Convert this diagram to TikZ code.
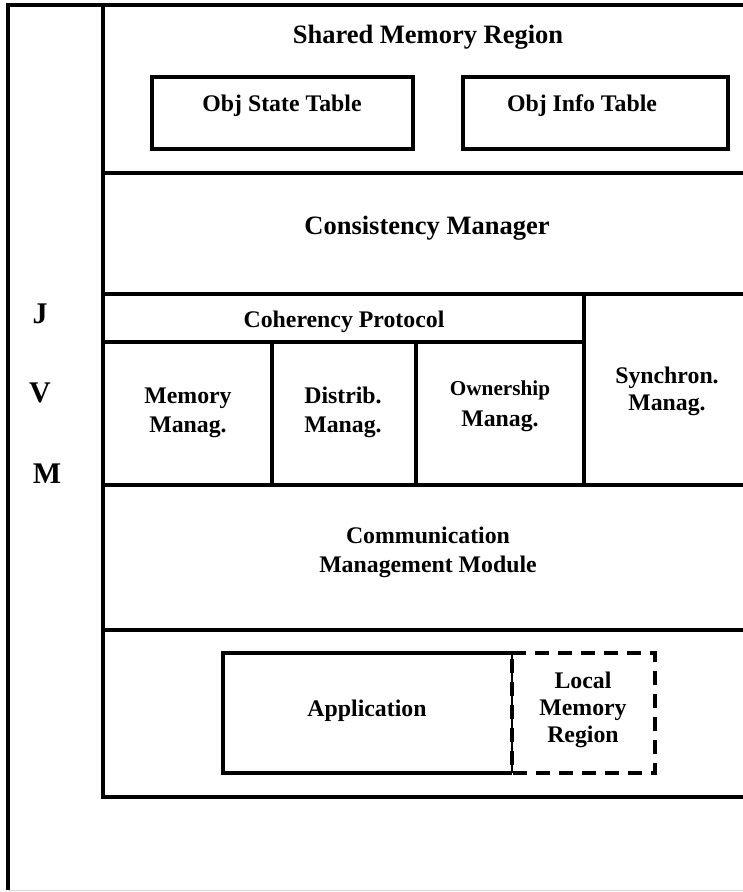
\documentclass[tikz,border=0pt]{standalone}
\usepackage{fontspec}
\setmainfont{Liberation Serif}
\begin{document}
\begin{tikzpicture}[x=1pt,y=-1pt,
  thick line/.style={line width=4pt},
  thin line/.style={line width=2pt},
  dash line/.style={line width=4pt, dash pattern=on 14pt off 9pt},
  big/.style={font=\fontsize{26.5}{30}\selectfont\bfseries, inner sep=0pt},
  mid/.style={font=\fontsize{23.8}{29}\selectfont\bfseries, inner sep=0pt, align=center},
  tight/.style={font=\fontsize{23.8}{27}\selectfont\bfseries, inner sep=0pt, align=center},
  small/.style={font=\fontsize{21.2}{31}\selectfont\bfseries, inner sep=0pt, align=center},
  jvm/.style={font=\fontsize{30}{30}\selectfont\bfseries, inner sep=0pt}]
\useasboundingbox (0,0) rectangle (743,892);
% outer JVM frame
\draw[thick line] (743,5) -- (8,5) -- (8,890);
\draw[line width=1pt, black!15] (8,890) -- (743,890);
% inner column
\draw[thick line] (103,5) -- (103,797) -- (743,797);
% horizontal layers
\draw[thick line] (103,173) -- (743,173);
\draw[thick line] (103,294) -- (743,294);
\draw[thick line] (103,342) -- (584,342);
\draw[thick line] (103,485) -- (743,485);
\draw[thick line] (103,630) -- (743,630);
% verticals in manager row
\draw[thick line] (272,342) -- (272,485);
\draw[thick line] (416,342) -- (416,485);
\draw[thick line] (584,294) -- (584,485);
% tables
\draw[thick line] (152,77) rectangle (413,149);
\draw[thick line] (463,77) rectangle (728,149);
% application and local memory
\draw[thick line] (512,653) -- (223,653) -- (223,773) -- (512,773);
\draw[thin line] (512,653) -- (512,773);
\draw[dash line] (512,653) -- (655,653) -- (655,773) -- (512,773) -- cycle;
% texts
\node[big, anchor=base] (smr) at (428,43) {Shared Memory Region};
\node[mid, anchor=base] (ost) at (282,111) {Obj State Table};
\node[mid, anchor=base] (oit) at (582,111) {Obj Info Table};
\node[big, anchor=base] (cm) at (427,234) {Consistency Manager};
\node[mid, anchor=base] (cp) at (344,327) {Coherency Protocol};
\node[mid, anchor=base] (mm) at (188,432) {Memory\\Manag.};
\node[mid, anchor=base] (dm) at (343,432) {Distrib.\\Manag.};
\node[small, anchor=base] (om) at (500,426) {Ownership\\{\fontsize{23.8}{31}\selectfont Manag.}};
\node[tight, anchor=base] (sm) at (667,410) {Synchron.\\Manag.};
\node[mid, anchor=base] (cmm) at (428,572) {Communication\\Management Module};
\node[mid, anchor=base] (app) at (367,716) {Application};
\node[tight, anchor=base] (lmr) at (583,742) {Local\\Memory\\Region};
\node[jvm, anchor=base] (j) at (40,323) {J};
\node[jvm, anchor=base] (v) at (40,402) {V};
\node[jvm, anchor=base] (m) at (47,483) {M};
\end{tikzpicture}
\end{document}
